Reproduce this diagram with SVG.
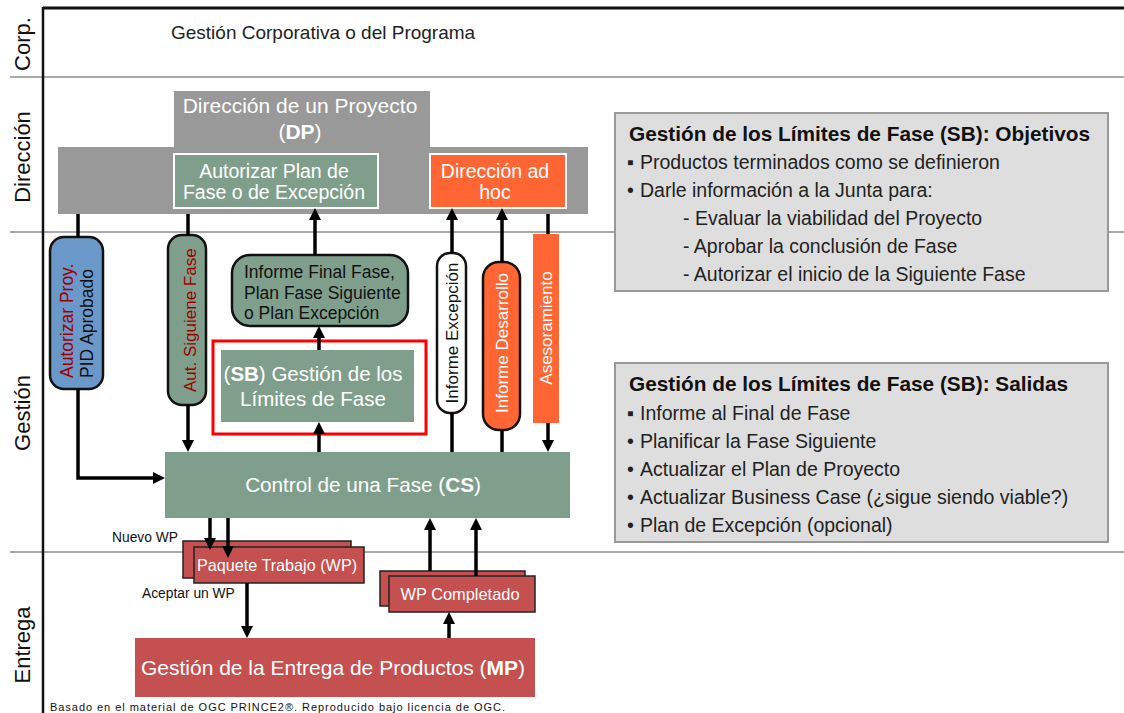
<svg xmlns="http://www.w3.org/2000/svg" width="1124" height="713" viewBox="0 0 1124 713">
<style>
text{font-family:"Liberation Sans","DejaVu Sans",Arial,sans-serif}
.lane{font-size:22px;fill:#111;text-anchor:middle}
.w{fill:#fff}
.c{text-anchor:middle}
.g{fill:#7f9f8c}
.o{fill:#ff6633}
.r{fill:#c55050;stroke:#222;stroke-width:1.5}
.pill{stroke:#111;stroke-width:2.5}
.vt{font-size:17px}
.dr{fill:#9b0000}
.box{fill:#dedede;stroke:#999;stroke-width:2}
.bt{font-size:20.8px;font-weight:bold;fill:#111}
.bi{font-size:19.5px;fill:#222}
.conn{fill:none;stroke:#000;stroke-width:3.5}
</style>
<defs>
<marker id="arr" viewBox="0 0 12 12" refX="4" refY="6" markerWidth="12" markerHeight="12" markerUnits="userSpaceOnUse" orient="auto"><path d="M0,0 L12,6 L0,12 z" fill="#000"/></marker>
</defs>
<rect width="1124" height="713" fill="#fff"/>
<g id="lanes">
<line x1="10" y1="77" x2="1124" y2="77" stroke="#aaa" stroke-width="2"/>
<line x1="10" y1="232" x2="1124" y2="232" stroke="#aaa" stroke-width="2"/>
<line x1="10" y1="552" x2="1124" y2="552" stroke="#aaa" stroke-width="2"/>
<line x1="43" y1="8" x2="1124" y2="8" stroke="#111" stroke-width="3"/>
<line x1="43" y1="7" x2="43" y2="713" stroke="#111" stroke-width="2.5"/>
<text class="lane" transform="translate(30,44) rotate(-90)">Corp.</text>
<text class="lane" transform="translate(30,157) rotate(-90)">Dirección</text>
<text class="lane" transform="translate(30,413) rotate(-90)">Gestión</text>
<text class="lane" transform="translate(30,645) rotate(-90)">Entrega</text>
<text x="171" y="39" font-size="19" fill="#222">Gestión Corporativa o del Programa</text>
</g>
<g id="dp">
<path d="M174,91 H430 V147 H588 V214 H58 V147 H174 Z" fill="#999"/>
<text class="w c" x="300" y="113" font-size="21">Dirección de un Proyecto</text>
<text class="w c" x="300" y="139" font-size="21">(<tspan font-weight="bold">DP</tspan>)</text>
</g>
<g id="autorizar-plan">
<rect class="g" x="174" y="154" width="204" height="54" stroke="#fff" stroke-width="2"/>
<text class="w c" x="274" y="178" font-size="19.5">Autorizar Plan de</text>
<text class="w c" x="274" y="199" font-size="19.5">Fase o de Excepción</text>
</g>
<g id="direccion-adhoc">
<rect class="o" x="430" y="154" width="136" height="54" stroke="#fff" stroke-width="2"/>
<text class="w c" x="495" y="178" font-size="19.5">Dirección ad</text>
<text class="w c" x="495" y="199" font-size="19.5">hoc</text>
</g>
<g id="autorizar-proy">
<rect x="50" y="237" width="53" height="152" rx="14" fill="#6a98c9" class="pill"/>
<text class="dr" font-size="17.5" transform="translate(73,378) rotate(-90)">Autorizar Proy.</text>
<text font-size="17.5" fill="#111" transform="translate(93,378) rotate(-90)">PID Aprobado</text>
</g>
<g id="aut-siguiente">
<rect class="g pill" x="168" y="235" width="38" height="170" rx="14"/>
<text class="vt dr" transform="translate(196,392) rotate(-90)">Aut. Siguiene Fase</text>
</g>
<g id="informe-final">
<rect class="g pill" x="232" y="255" width="176" height="71" rx="18"/>
<text x="244" y="278" font-size="17.5" fill="#111">Informe Final Fase,</text>
<text x="244" y="299" font-size="17.5" fill="#111">Plan Fase Siguiente</text>
<text x="244" y="319" font-size="17.5" fill="#111">o Plan Excepción</text>
</g>
<g id="sb">
<rect x="213" y="341" width="213" height="93" fill="#fff" stroke="#ff0000" stroke-width="3"/>
<rect class="g" x="221" y="350" width="193" height="72"/>
<text class="w c" x="313" y="381" font-size="20.5">(<tspan font-weight="bold">SB</tspan>) Gestión de los</text>
<text class="w c" x="313" y="406" font-size="20.5">Límites de Fase</text>
</g>
<g id="informe-excepcion">
<rect x="437" y="253" width="29" height="160" rx="13" fill="#fff" class="pill"/>
<text class="vt c" fill="#111" transform="translate(458,333) rotate(-90)">Informe Excepción</text>
</g>
<g id="informe-desarrollo">
<rect class="o pill" x="483" y="262" width="37" height="168" rx="16"/>
<text class="vt c w" transform="translate(508,343) rotate(-90)">Informe Desarrollo</text>
</g>
<g id="asesoramiento">
<rect class="o" x="533" y="234" width="26" height="189"/>
<text class="vt c w" transform="translate(552,328) rotate(-90)">Asesoramiento</text>
</g>
<g id="cs">
<rect class="g" x="165" y="452" width="405" height="66"/>
<text class="w c" x="363" y="492" font-size="20.7">Control de una Fase (<tspan font-weight="bold">CS</tspan>)</text>
</g>
<g id="paquete">
<rect class="r" x="183" y="541" width="168" height="37"/>
<rect class="r" x="194" y="547" width="170" height="36"/>
<text class="w c" x="277" y="571" font-size="16.2">Paquete Trabajo (WP)</text>
</g>
<g id="wp-completado">
<rect class="r" x="380" y="571" width="145" height="35"/>
<rect class="r" x="389" y="576" width="146" height="36"/>
<text class="w c" x="460" y="600" font-size="16.4">WP Completado</text>
</g>
<g id="mp">
<rect x="135" y="638" width="400" height="59" fill="#c55050"/>
<text class="w c" x="333" y="675" font-size="21">Gestión de la Entrega de Productos (<tspan font-weight="bold">MP</tspan>)</text>
</g>
<g id="objetivos">
<rect class="box" x="615" y="113" width="493" height="178"/>
<text class="bt" x="629" y="141">Gestión de los Límites de Fase (SB): Objetivos</text>
<text class="bi" x="627" y="169" font-size="15">▪</text><text class="bi" x="640" y="169">Productos terminados como se definieron</text>
<text class="bi" x="627" y="197">•</text><text class="bi" x="640" y="197">Darle información a la Junta para:</text>
<text class="bi" x="683" y="225">- Evaluar la viabilidad del Proyecto</text>
<text class="bi" x="683" y="253">- Aprobar la conclusión de Fase</text>
<text class="bi" x="683" y="281">- Autorizar el inicio de la Siguiente Fase</text>
</g>
<g id="salidas">
<rect class="box" x="615" y="363" width="493" height="179"/>
<text class="bt" x="629" y="391">Gestión de los Límites de Fase (SB): Salidas</text>
<text class="bi" x="627" y="420" font-size="15">▪</text><text class="bi" x="640" y="420">Informe al Final de Fase</text>
<text class="bi" x="627" y="448">•</text><text class="bi" x="640" y="448">Planificar la Fase Siguiente</text>
<text class="bi" x="627" y="476">•</text><text class="bi" x="640" y="476">Actualizar el Plan de Proyecto</text>
<text class="bi" x="627" y="504">•</text><text class="bi" x="640" y="504">Actualizar Business Case (¿sigue siendo viable?)</text>
<text class="bi" x="627" y="532">•</text><text class="bi" x="640" y="532">Plan de Excepción (opcional)</text>
</g>
<g id="connectors" class="conn">
<path d="M78,214 V237"/>
<path d="M78,389 V478 H157" marker-end="url(#arr)"/>
<path d="M188,214 V235"/>
<path d="M188,405 V444" marker-end="url(#arr)"/>
<path d="M548,214 V234"/>
<path d="M548,423 V444" marker-end="url(#arr)"/>
<path d="M452,452 V413"/>
<path d="M452,253 V216" marker-end="url(#arr)"/>
<path d="M502,452 V430"/>
<path d="M502,262 V216" marker-end="url(#arr)"/>
<path d="M319,452 V430" marker-end="url(#arr)"/>
<path d="M319,350 V334" marker-end="url(#arr)"/>
<path d="M315,255 V216" marker-end="url(#arr)"/>
<path d="M210,518 V542" marker-end="url(#arr)"/>
<path d="M228,518 V550" marker-end="url(#arr)"/>
<path d="M247,583 V630" marker-end="url(#arr)"/>
<path d="M430,571 V526" marker-end="url(#arr)"/>
<path d="M476,576 V526" marker-end="url(#arr)"/>
<path d="M449,638 V620" marker-end="url(#arr)"/>
</g>
<g id="labels">
<text x="112" y="542" font-size="13.8" fill="#111">Nuevo WP</text>
<text x="142" y="598" font-size="13.8" fill="#111">Aceptar un WP</text>
<text x="50" y="711" font-size="11" fill="#111" textLength="455">Basado en el material de OGC PRINCE2®. Reproducido bajo licencia de OGC.</text>
</g>
</svg>
